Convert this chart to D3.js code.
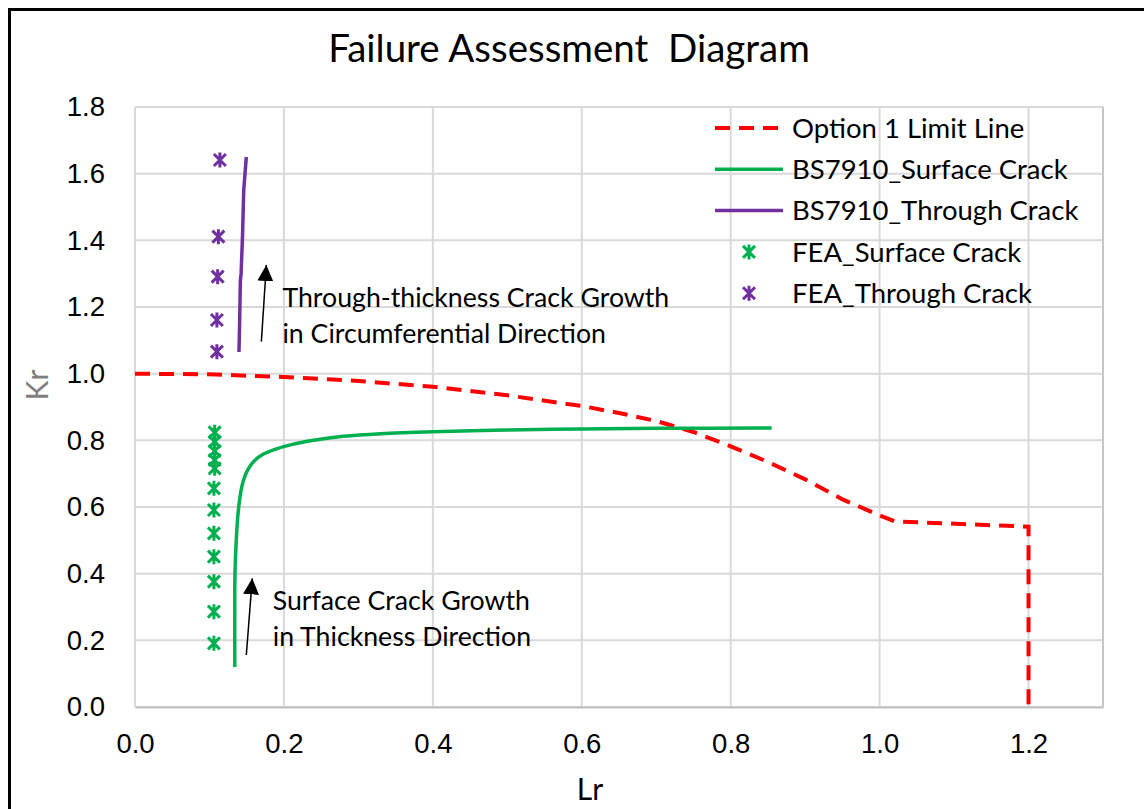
<!DOCTYPE html>
<html>
<head>
<meta charset="utf-8">
<script src="https://cdnjs.cloudflare.com/ajax/libs/d3/7.8.5/d3.min.js"></script>
<style>
  body { margin: 0; background: #fff; }
  svg { display: block; font-family: Lato, "Open Sans", sans-serif; }
</style>
</head>
<body>
<svg id="svg" width="1144" height="809"></svg>
<script>
// Option 1 limit line
var limitLr = [0, 0.1, 0.2, 0.3, 0.4, 0.5, 0.6, 0.65, 0.7, 0.75, 0.8, 0.85, 0.9, 0.95, 1.0, 1.02, 1.2, 1.2];
var limitKr = [1.0, 0.998, 0.99, 0.978, 0.961, 0.935, 0.903, 0.882, 0.858, 0.825, 0.782, 0.735, 0.683, 0.623, 0.575, 0.557, 0.541, 0];

// BS7910 surface crack
var surfLr = [0.134, 0.134, 0.1345, 0.136, 0.138, 0.141, 0.145, 0.151, 0.16, 0.172, 0.188, 0.21, 0.24, 0.28, 0.33, 0.4, 0.5, 0.6, 0.7, 0.855];
var surfKr = [0.12, 0.35, 0.42, 0.5, 0.57, 0.63, 0.675, 0.71, 0.738, 0.758, 0.773, 0.787, 0.8, 0.812, 0.82, 0.826, 0.831, 0.834, 0.836, 0.837];

// BS7910 through crack
var thruLr = [0.1396, 0.1405, 0.1415, 0.1425, 0.1445, 0.146, 0.1495];
var thruKr = [1.065, 1.15, 1.28, 1.30, 1.42, 1.55, 1.65];

// FEA points
var feaSurfLr = [0.107, 0.107, 0.107, 0.107, 0.107, 0.106, 0.106, 0.106, 0.106, 0.106, 0.106, 0.106];
var feaSurfKr = [0.824, 0.796, 0.768, 0.741, 0.716, 0.656, 0.591, 0.521, 0.451, 0.376, 0.286, 0.191];
var feaThruLr = [0.114, 0.112, 0.111, 0.110, 0.110];
var feaThruKr = [1.641, 1.411, 1.291, 1.161, 1.066];

var xTicks = [0, 0.2, 0.4, 0.6, 0.8, 1.0, 1.2];
var yTicks = [0, 0.2, 0.4, 0.6, 0.8, 1.0, 1.2, 1.4, 1.6, 1.8];

var legendNames = ["Option 1 Limit Line", "BS7910_Surface Crack", "BS7910_Through Crack", "FEA_Surface Crack", "FEA_Through Crack"];

// annotations: [tail Lr, tail Kr, tip Lr, tip Kr]
var arrows = [[0.1697, 1.096, 0.1764, 1.326], [0.1495, 0.156, 0.1575, 0.386]];
var notes = [
  { lr: 0.198, kr: 1.2, lines: ["Through-thickness Crack Growth", "in Circumferential Direction"] },
  { lr: 0.185, kr: 0.292, lines: ["Surface Crack Growth", "in Thickness Direction"] }
];

var red = "#ff0000", green = "#00b050", purple = "#7030a0";

var svg = d3.select("#svg"),
  margin = { top: 107, right: 41, bottom: 102, left: 135 },
  width = +svg.attr("width") - margin.left - margin.right,
  height = +svg.attr("height") - margin.top - margin.bottom;

// outer frame
svg.append("rect")
  .attr("x", 9.5).attr("y", 9.5)
  .attr("width", 1200).attr("height", 900)
  .attr("fill", "none").attr("stroke", "#000").attr("stroke-width", 3);

svg.append("text")
  .attr("x", 569).attr("y", 62)
  .attr("text-anchor", "middle")
  .style("font-size", "38.5px")
  .attr("fill", "#000")
  .text("Failure Assessment\u00a0 Diagram");

var g = svg.append("g").attr("transform", "translate(" + margin.left + "," + margin.top + ")");

var xScale = d3.scaleLinear().domain([0, 1.3]).range([0, width]);
var yScale = d3.scaleLinear().domain([0, 1.8]).range([height, 0]);

// grid
g.append("g").selectAll("line").data(xTicks).enter().append("line")
  .attr("x1", function (d) { return xScale(d); }).attr("x2", function (d) { return xScale(d); })
  .attr("y1", 0).attr("y2", height)
  .attr("stroke", "#d9d9d9").attr("stroke-width", 2);
g.append("g").selectAll("line").data(yTicks).enter().append("line")
  .attr("x1", 0).attr("x2", width)
  .attr("y1", function (d) { return yScale(d); }).attr("y2", function (d) { return yScale(d); })
  .attr("stroke", "#d9d9d9").attr("stroke-width", 2);
g.append("line")
  .attr("x1", width).attr("x2", width).attr("y1", 0).attr("y2", height)
  .attr("stroke", "#c6c6c6").attr("stroke-width", 2);

// axes
var xAxis = g.append("g")
  .attr("transform", "translate(0," + height + ")")
  .call(d3.axisBottom(xScale).tickValues(xTicks).tickSize(0).tickPadding(26).tickFormat(d3.format(".1f")));
xAxis.select(".domain").attr("stroke", "#bfbfbf").attr("stroke-width", 2);
xAxis.selectAll("text").style("font-size", "27.5px").attr("fill", "#000");

var yAxis = g.append("g")
  .call(d3.axisLeft(yScale).tickValues(yTicks).tickSize(0).tickPadding(30).tickFormat(d3.format(".1f")));
yAxis.select(".domain").remove();
yAxis.selectAll("text").style("font-size", "27.5px").attr("fill", "#000");

svg.append("text")
  .attr("x", 590).attr("y", 800)
  .attr("text-anchor", "middle")
  .style("font-size", "30px").attr("fill", "#000")
  .text("Lr");
svg.append("text")
  .attr("transform", "translate(48,385) rotate(-90)")
  .attr("text-anchor", "middle")
  .style("font-size", "30px").attr("fill", "#7f7f7f")
  .text("Kr");

function pairs(a, b) {
  return a.map(function (v, i) { return [v, b[i]]; });
}

var line = d3.line()
  .x(function (d) { return xScale(d[0]); })
  .y(function (d) { return yScale(d[1]); });

g.append("path")
  .attr("d", line(pairs(limitLr, limitKr)))
  .attr("fill", "none").attr("stroke", red).attr("stroke-width", 4)
  .attr("stroke-dasharray", "15,9");

g.append("path")
  .attr("d", line.curve(d3.curveCatmullRom.alpha(0.5))(pairs(surfLr, surfKr)))
  .attr("fill", "none").attr("stroke", green).attr("stroke-width", 3.5);

g.append("path")
  .attr("d", line.curve(d3.curveLinear)(pairs(thruLr, thruKr)))
  .attr("fill", "none").attr("stroke", purple).attr("stroke-width", 3.5);

// star marker: X plus vertical bar
var star = "M-6,-6L6,6M-6,6L6,-6M0,-7.5L0,7.5";

function markers(pts, color) {
  g.append("g").selectAll("path").data(pts).enter().append("path")
    .attr("transform", function (d) { return "translate(" + xScale(d[0]) + "," + yScale(d[1]) + ")"; })
    .attr("d", star)
    .attr("fill", "none").attr("stroke", color).attr("stroke-width", 3);
}
markers(pairs(feaSurfLr, feaSurfKr), green);
markers(pairs(feaThruLr, feaThruKr), purple);

// arrows
svg.append("defs").append("marker")
  .attr("id", "head")
  .attr("viewBox", "0 0 10 10")
  .attr("refX", 10).attr("refY", 5)
  .attr("markerWidth", 16).attr("markerHeight", 16)
  .attr("markerUnits", "userSpaceOnUse")
  .attr("orient", "auto")
  .append("path").attr("d", "M0,0L10,5L0,10Z").attr("fill", "#000");

g.append("g").selectAll("line").data(arrows).enter().append("line")
  .attr("x1", function (d) { return xScale(d[0]); }).attr("y1", function (d) { return yScale(d[1]); })
  .attr("x2", function (d) { return xScale(d[2]); }).attr("y2", function (d) { return yScale(d[3]); })
  .attr("stroke", "#000").attr("stroke-width", 1.5)
  .attr("marker-end", "url(#head)");

notes.forEach(function (n) {
  var t = g.append("text")
    .attr("x", xScale(n.lr)).attr("y", yScale(n.kr))
    .style("font-size", "26.7px").attr("fill", "#000");
  n.lines.forEach(function (s, i) {
    t.append("tspan").attr("x", xScale(n.lr)).attr("dy", i ? 36 : 0).text(s);
  });
});

// legend
var legend = svg.append("g").attr("transform", "translate(715,128)");
var item = legend.selectAll("g").data(legendNames).enter().append("g")
  .attr("transform", function (d, i) { return "translate(0," + i * 41.3 + ")"; });

item.filter(function (d, i) { return i < 3; }).append("line")
  .attr("x1", 0).attr("x2", 68).attr("y1", 0).attr("y2", 0)
  .attr("stroke", function (d, i) { return [red, green, purple][i]; })
  .attr("stroke-width", function (d, i) { return i ? 3.5 : 4; })
  .attr("stroke-dasharray", function (d, i) { return i ? null : "15,9"; });

item.filter(function (d, i) { return i >= 3; }).append("path")
  .attr("transform", "translate(34,0)")
  .attr("d", star)
  .attr("fill", "none")
  .attr("stroke", function (d, i) { return i ? purple : green; })
  .attr("stroke-width", 3);

item.append("text")
  .attr("x", 77).attr("y", 0).attr("dy", "0.35em")
  .style("font-size", "27.5px").attr("fill", "#000")
  .text(function (d) { return d; });
</script>
</body>
</html>
